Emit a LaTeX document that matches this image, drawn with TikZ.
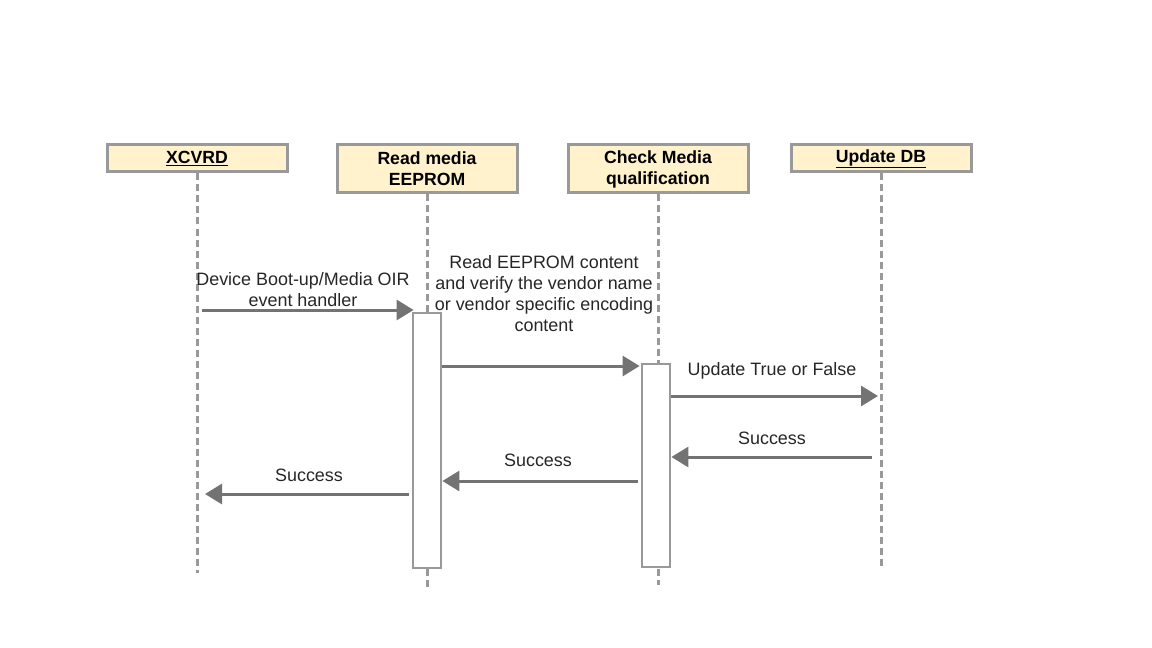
\documentclass[tikz,border=0pt]{standalone}
\usepackage{fontspec}
\setmainfont{Liberation Sans}
\usetikzlibrary{arrows.meta}
\definecolor{boxfill}{HTML}{FFF2CC}
\definecolor{boxline}{HTML}{999999}
\definecolor{arr}{HTML}{737373}
\tikzset{
  head/.style={draw=boxline, line width=3bp, fill=boxfill, minimum width=180bp, inner sep=0pt, align=center, font=\bfseries\fontsize{17.7}{21}\selectfont},
  life/.style={draw=boxline, line width=3bp, dash pattern=on 7bp off 4bp},
  actbar/.style={draw=boxline, line width=2.8bp, fill=white},
  msg/.style={draw=arr, line width=3bp, -{Triangle[length=17bp, width=20bp]}},
  lbl/.style={align=center, inner sep=0pt, font=\fontsize{18}{21}\selectfont, text=black!85}
}
\begin{document}
\begin{tikzpicture}[x=1bp, y=-1bp]
\useasboundingbox (0,0) rectangle (1152,648);
% heads
\node[head, minimum height=27bp] (h1) at (197,158.5) {\underline{XCVRD}};
\node[head, minimum height=48bp] (h2) at (427,169) {Read media\\EEPROM};
\node[head, minimum height=48bp] (h3) at (658,169) {Check Media\\qualification};
\node[head, minimum height=27bp] (h4) at (881,158.5) {\underline{Update DB}};
% lifeline ends
\coordinate (e1) at (197,573);
\coordinate (e2) at (427,588);
\coordinate (e3) at (658,585);
\coordinate (e4) at (881,568);
\draw[life] (h1.south) -- (e1);
\draw[life] (h2.south) -- (e2);
\draw[life] (h3.south) -- (e3);
\draw[life] (h4.south) -- (e4);
% activation bars
\node[actbar, minimum width=28bp, minimum height=255bp, inner sep=0pt] (a2) at (427,440.5) {};
\node[actbar, minimum width=28bp, minimum height=203bp, inner sep=0pt] (a3) at (656,465.5) {};
% messages
\coordinate (m1s) at (202,310);
\draw[msg] (m1s) -- ([xshift=2bp]a2.north west |- m1s);
\node[lbl] (l1) at (303,290) {Device Boot-up/Media OIR\\event handler};
\coordinate (m2s) at (441,366);
\draw[msg] (a2.east |- m2s) -- ([xshift=-1bp]a3.north west |- m2s);
\node[lbl] (l2) at (544,293.5) {Read EEPROM content\\and verify the vendor name\\or vendor specific encoding\\content};
\coordinate (m3s) at (670,396);
\draw[msg] (a3.east |- m3s) -- ([xshift=-3bp]e4 |- m3s);
\node[lbl] (l3) at (772,371) {Update True or False};
\coordinate (m4s) at (872,457);
\draw[msg] (m4s) -- (a3.east |- m4s);
\node[lbl] (l4) at (772,438.5) {Success};
\coordinate (m5s) at (638,481);
\draw[msg] (m5s) -- (a2.east |- m5s);
\node[lbl] (l5) at (538,460) {Success};
\coordinate (m6s) at (409,494);
\draw[msg] (m6s) -- ([xshift=8bp]e1 |- m6s);
\node[lbl] (l6) at (309,475.5) {Success};
\end{tikzpicture}
\end{document}
